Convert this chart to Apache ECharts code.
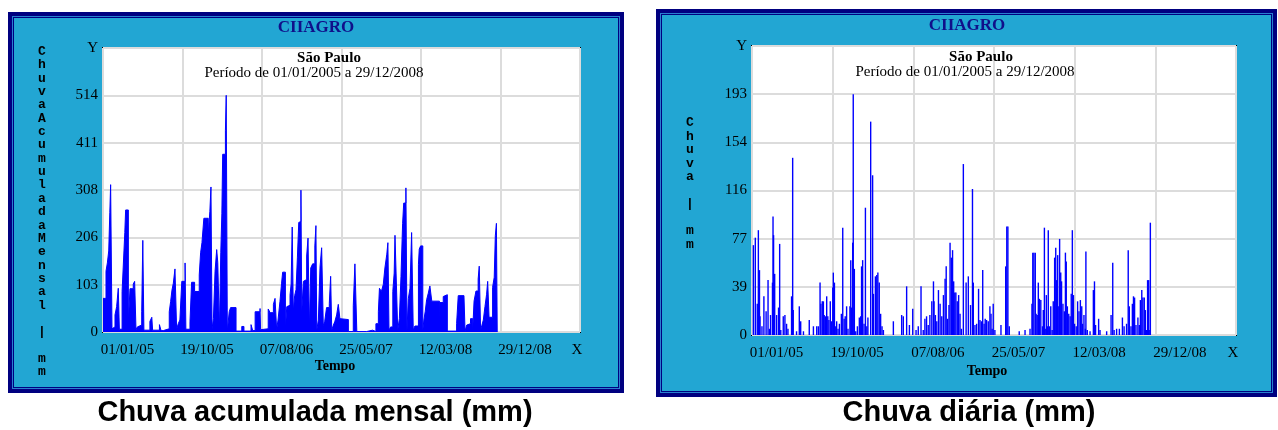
<!DOCTYPE html>
<html>
<head>
<meta charset="utf-8">
<script src="https://cdn.jsdelivr.net/npm/echarts@6/dist/echarts.min.js"></script>
<style>
  html, body { margin: 0; padding: 0; background: #fff; }
  #chart { width: 1278px; height: 430px; }
</style>
</head>
<body>
<div id="chart"></div>
<script>
// dias desde 01/01/2005, mm
var chuvaAcumulada = [
  [0,73],[11,132],[16,150],[21,176],[25,260],[28,320],[33,7],[38,11],[44,37],[50,55],[56,95],[60,6],
  [70,88],[74,139],[80,216],[83,265],[93,22],[99,94],[111,104],[116,110],[121,5],[126,11],[133,15],
  [142,44],[146,199],[150,4],[172,23],[179,32],[182,4],[207,16],[213,3],[221,7],[243,44],[248,66],
  [253,91],[258,106],[264,137],[270,6],[276,18],[282,26],[289,110],[301,150],[304,6],[319,22],[325,108],
  [336,88],[353,124],[358,172],[363,194],[370,247],[386,212],[392,262],[396,315],[400,7],[405,29],
  [411,132],[417,179],[421,151],[427,5],[432,172],[436,258],[439,386],[449,437],[452,514],[456,2],
  [463,44],[468,53],[488,2],[509,12],[517,2],[543,16],[549,3],[558,44],[576,51],[578,5],[583,7],
  [606,50],[613,42],[625,60],[631,73],[637,5],[642,26],[649,66],[655,106],[659,130],[669,5],[674,55],
  [680,58],[686,80],[690,104],[694,228],[698,45],[703,79],[708,92],[713,161],[718,238],[723,240],
  [726,308],[729,44],[735,110],[741,114],[747,165],[752,204],[757,5],[762,139],[769,148],[777,187],
  [781,231],[784,4],[790,26],[796,141],[802,183],[808,14],[813,22],[820,53],[830,62],[835,121],[839,4],
  [845,15],[850,22],[857,37],[863,60],[869,29],[876,27],[900,1],[918,57],[924,148],[931,1],[967,4],
  [989,1],[1001,18],[1010,44],[1014,95],[1021,88],[1028,103],[1034,139],[1041,169],[1045,194],[1049,4],
  [1055,11],[1063,88],[1068,128],[1071,210],[1075,128],[1081,4],[1087,29],[1093,121],[1099,236],
  [1103,280],[1111,313],[1115,4],[1120,73],[1126,95],[1132,216],[1138,4],[1144,13],[1157,147],
  [1160,180],[1165,187],[1173,4],[1177,26],[1182,45],[1187,70],[1193,84],[1199,100],[1206,67],
  [1234,4],[1236,64],[1248,77],[1254,81],[1263,2],[1297,18],[1303,79],[1324,81],[1328,2],[1334,15],
  [1340,18],[1348,29],[1356,3],[1361,67],[1368,89],[1376,115],[1380,143],[1385,4],[1390,15],[1395,26],
  [1401,55],[1407,82],[1411,110],[1416,32],[1429,97],[1435,119],[1439,209],[1443,236],[1446,0]
];

var chuvaDiaria = [
  [5,72],[12,78],[19,25],[23,84],[27,52],[29,15],[36,7],[43,31],[51,19],[58,44],[63,5],[67,16],[74,42],
  [76,95],[78,80],[82,49],[89,16],[96,22],[100,73],[104,4],[113,15],[119,16],[125,9],[130,5],[143,31],
  [147,142],[149,20],[161,3],[171,23],[176,11],[186,3],[207,12],[222,7],[234,7],[240,7],[246,42],
  [249,25],[254,27],[258,27],[261,16],[265,15],[270,31],[274,15],[278,12],[283,27],[288,11],[292,38],
  [294,50],[298,42],[301,7],[306,11],[311,5],[316,9],[323,17],[328,86],[333,13],[337,15],[342,23],
  [347,5],[354,23],[357,60],[360,22],[364,74],[366,193],[370,53],[375,3],[381,7],[388,14],[393,15],
  [396,55],[400,60],[405,9],[410,102],[415,7],[419,14],[429,171],[436,128],[439,33],[446,47],[451,48],
  [455,50],[460,42],[465,17],[470,7],[475,4],[511,11],[541,16],[547,15],[559,39],[569,8],[581,21],
  [593,4],[601,7],[611,39],[619,4],[625,13],[631,15],[637,8],[643,16],[650,27],[656,43],[658,27],
  [663,16],[668,11],[674,36],[680,25],[686,15],[692,32],[698,45],[702,55],[707,13],[712,24],[716,74],
  [721,62],[725,68],[729,43],[733,34],[737,34],[742,27],[747,32],[752,17],[757,5],[764,137],[774,42],
  [782,47],[790,24],[797,117],[800,42],[806,8],[812,9],[819,37],[824,12],[829,11],[834,52],[839,9],
  [843,13],[848,12],[854,11],[860,23],[864,17],[868,5],[872,25],[878,4],[900,8],[917,55],[921,87],
  [925,87],[930,7],[966,3],[987,4],[1005,5],[1012,25],[1015,66],[1019,66],[1024,66],[1027,17],
  [1031,16],[1035,42],[1039,29],[1044,28],[1050,7],[1053,20],[1057,86],[1060,5],[1064,32],[1068,7],
  [1071,84],[1075,7],[1080,23],[1085,4],[1089,27],[1094,62],[1098,70],[1101,44],[1105,64],[1109,23],
  [1112,77],[1116,50],[1119,43],[1124,25],[1129,19],[1133,66],[1136,59],[1140,23],[1145,17],[1150,15],
  [1154,33],[1158,84],[1162,32],[1166,9],[1172,7],[1177,27],[1182,19],[1187,28],[1192,23],[1195,9],
  [1200,16],[1205,5],[1207,67],[1212,4],[1222,3],[1234,36],[1238,43],[1242,8],[1253,13],[1258,4],
  [1282,3],[1298,16],[1304,58],[1309,4],[1318,5],[1328,5],[1339,14],[1345,7],[1354,9],[1360,68],
  [1364,23],[1370,7],[1375,25],[1379,31],[1383,30],[1388,8],[1395,14],[1400,8],[1404,28],[1409,36],
  [1413,30],[1418,30],[1422,20],[1426,4],[1430,44],[1434,44],[1438,4],[1440,90]
];

var xLabels = ['01/01/05', '19/10/05', '07/08/06', '25/05/07', '12/03/08', '29/12/08', 'X'];
var yLabelsAcum = ['0', '103', '206', '308', '411', '514', 'Y'];
var yLabelsDia = ['0', '39', '77', '116', '154', '193', 'Y'];

var diasPasso = 291.6;   // 01/01/05 -> 29/12/08 em 5 passos
var passoAcum = 102.8;
var passoDia = 38.6;

var serif = '"Liberation Serif", "Times New Roman", serif';
var azulFundo = '#22a6d3';
var marinho = '#000080';

var myChart = echarts.init(document.getElementById('chart'));

function xAxisOpt(gridIndex) {
  return {
    type: 'value', gridIndex: gridIndex,
    min: 0, max: diasPasso * 6, interval: diasPasso,
    axisLine: { show: false }, axisTick: { show: false },
    splitLine: { show: true, lineStyle: { color: '#dcdcdc', width: 2 } },
    axisLabel: {
      show: true, margin: 11, align: 'center',
      showMinLabel: true, showMaxLabel: true,
      formatter: function (v, i) {
        var t = xLabels[Math.round(v / diasPasso)];
        return t === 'X' ? '{x|X}' : '{d|' + t + '}';
      },
      rich: {
        d: { fontFamily: serif, fontSize: 15, color: '#000', padding: [0, 0, 0, 49] },
        x: { fontFamily: serif, fontSize: 15, color: '#000', padding: [0, 6, 0, 0] }
      }
    }
  };
}

function yAxisOpt(gridIndex, passo, labels) {
  return {
    type: 'value', gridIndex: gridIndex,
    min: 0, max: passo * 6, interval: passo,
    axisLine: { show: false }, axisTick: { show: false },
    splitLine: { show: true, lineStyle: { color: '#dcdcdc', width: 2 } },
    axisLabel: {
      margin: 5, fontFamily: serif, fontSize: 15, color: '#000',
      showMinLabel: true, showMaxLabel: true,
      formatter: function (v) { return labels[Math.round(v / passo)]; }
    }
  };
}

function painel(x, y, w, h) {
  return [
    { type: 'rect', z: -10, shape: { x: x, y: y, width: w, height: h }, style: { fill: marinho } },
    { type: 'rect', z: -9, shape: { x: x + 4, y: y + 4, width: w - 8, height: h - 8 }, style: { fill: '#2a7fd0' } },
    { type: 'rect', z: -8, shape: { x: x + 5, y: y + 5, width: w - 10, height: h - 10 }, style: { fill: marinho } },
    { type: 'rect', z: -7, shape: { x: x + 6, y: y + 6, width: w - 12, height: h - 12 }, style: { fill: azulFundo } }
  ];
}

function texto(t, x, y, font, opts) {
  opts = opts || {};
  return {
    type: 'text', z: 100,
    style: {
      text: t, x: x, y: y, font: font,
      fill: opts.fill || '#000',
      textAlign: opts.align || 'center',
      textVerticalAlign: opts.valign || 'middle',
      lineHeight: opts.lineHeight
    }
  };
}

var letrasAcum = 'ChuvaAcumuladaMensal'.split('').concat(['', '|', '', 'm', 'm']).join('\n');
var letrasDia = 'Chuva'.split('').concat(['', '|', '', 'm', 'm']).join('\n');

var graficos = []
  .concat(painel(8, 12, 616, 381))
  .concat(painel(656, 9, 621, 388))
  .concat([
    texto('CIIAGRO', 316, 28, 'bold 17px ' + serif, { fill: '#10108a' }),
    texto('CIIAGRO', 967, 26, 'bold 17px ' + serif, { fill: '#10108a' }),
    texto('São Paulo', 329, 58, 'bold 15px ' + serif),
    texto('Período de 01/01/2005 a 29/12/2008', 314, 73, '15px ' + serif),
    texto('São Paulo', 981, 57, 'bold 15px ' + serif),
    texto('Período de 01/01/2005 a 29/12/2008', 965, 72, '15px ' + serif),
    texto('Tempo', 335, 366, 'bold 14px ' + serif),
    texto('Tempo', 987, 371, 'bold 14px ' + serif),
    texto(letrasAcum, 42, 45, 'bold 13px "Liberation Mono", monospace', { valign: 'top', lineHeight: 13.35 }),
    texto(letrasDia, 690, 116, 'bold 13px "Liberation Mono", monospace', { valign: 'top', lineHeight: 13.5 }),
    texto('Chuva acumulada mensal (mm)', 315, 413, 'bold 29px "Liberation Sans", Arial, sans-serif'),
    texto('Chuva diária (mm)', 969, 413, 'bold 29px "Liberation Sans", Arial, sans-serif')
  ]);

var option = {
  animation: false,
  graphic: { elements: graficos },
  grid: [
    { left: 103, top: 48, width: 477, height: 284, show: true, backgroundColor: '#fff', borderColor: '#000', borderWidth: 2 },
    { left: 752, top: 46, width: 484, height: 289, show: true, backgroundColor: '#fff', borderColor: '#000', borderWidth: 2 }
  ],
  xAxis: [xAxisOpt(0), xAxisOpt(1)],
  yAxis: [yAxisOpt(0, passoAcum, yLabelsAcum), yAxisOpt(1, passoDia, yLabelsDia)],
  series: [
    {
      name: 'Chuva acumulada mensal', type: 'line', xAxisIndex: 0, yAxisIndex: 0,
      step: 'end', symbol: 'none',
      lineStyle: { color: '#0000ff', width: 1 },
      areaStyle: { color: '#0000ff', opacity: 1 },
      data: chuvaAcumulada
    },
    {
      name: 'Chuva diária', type: 'bar', xAxisIndex: 1, yAxisIndex: 1,
      barWidth: 1.4, itemStyle: { color: '#0000ff' },
      data: chuvaDiaria
    }
  ]
};

myChart.setOption(option);
window.addEventListener('resize', myChart.resize);
</script>
</body>
</html>
